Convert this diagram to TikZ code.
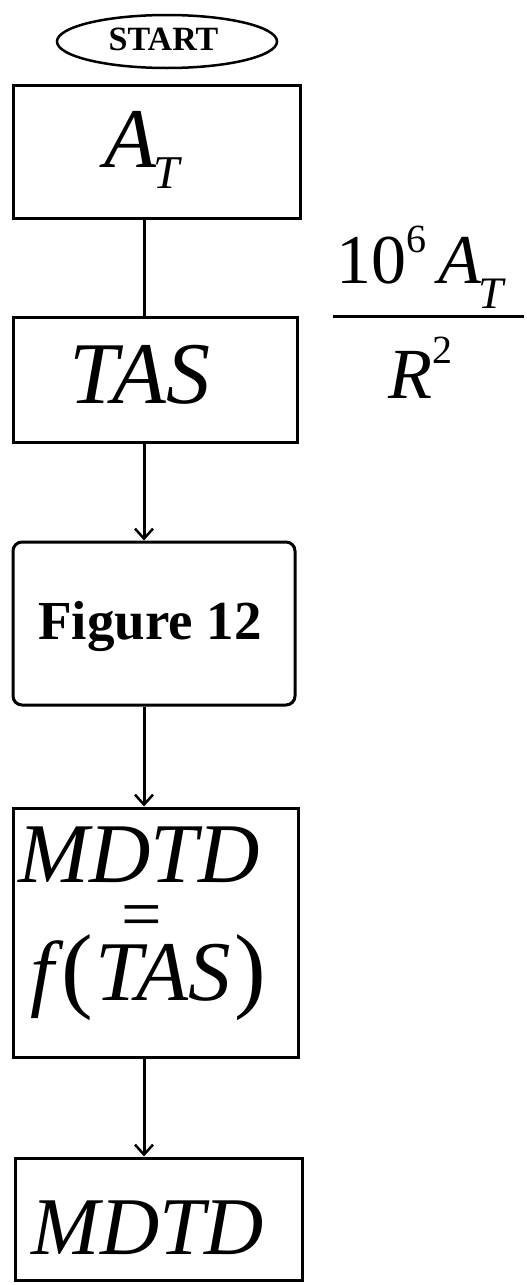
\documentclass[tikz,border=0pt]{standalone}
\usepackage{fontspec}
\setmainfont{Liberation Serif}
\usetikzlibrary{arrows.meta,shapes.geometric}
\begin{document}
\begin{tikzpicture}[x=1pt,y=-1pt,
  box/.style={draw,line width=3pt,rectangle,inner sep=0pt},
  rbox/.style={box,rounded corners=9pt},
  link/.style={line width=3pt},
  arrowlink/.style={link,-{Straight Barb[length=10pt,width=18pt,line width=2.5pt]}},
  txt/.style={inner sep=0pt,anchor=base},
  big/.style={font=\fontsize{85}{90}\selectfont\itshape}]
\useasboundingbox[fill=white] (0,0) rectangle (527,1285);
% shapes
\node[ellipse,draw,line width=2.5pt,minimum width=220pt,minimum height=53pt,inner sep=0pt] (start) at (167,41.5) {};
\node[box,minimum width=287pt,minimum height=133pt] (at) at (156.5,151.5) {};
\node[box,minimum width=284pt,minimum height=125pt] (tas) at (155,379.5) {};
\node[rbox,minimum width=282pt,minimum height=163pt] (fig) at (154,623.5) {};
\node[box,minimum width=285pt,minimum height=249pt] (fun) at (155.5,932.5) {};
\node[box,minimum width=287pt,minimum height=122pt] (mdtd) at (158.5,1219) {};
% texts
\node[txt,font=\fontsize{34}{40}\selectfont\bfseries] (starttext) at (163.5,50) {START};
\node[txt,anchor=base west,big] (attext) at (104,167) {A\kern-3pt\raisebox{-21pt}{\fontsize{47}{50}\selectfont T}};
\node[txt,font=\fontsize{88}{90}\selectfont\itshape] (tastext) at (140,403) {TAS};
\node[txt,font=\fontsize{55}{60}\selectfont\bfseries] (figtext) at (150,639) {Figure 12};
\node[txt,big] (funtext1) at (139,882) {MDTD};
\node[txt,font=\fontsize{72}{80}\selectfont] (funeq) at (142,938) {=};
\node[txt,big] (funtext2) at (148,1000) {f\kern8pt{\upshape\fontsize{95}{95}\selectfont(}\kern2pt TAS\kern3pt{\upshape\fontsize{95}{95}\selectfont)}};
\node[txt,font=\fontsize{82}{90}\selectfont\itshape] (mdtdtext) at (148,1254) {MDTD};
% fraction
\node[txt,anchor=base west,font=\fontsize{70}{80}\selectfont] (num) at (336,283) {10\raisebox{31pt}{\fontsize{40}{44}\selectfont 6}\kern12pt\itshape A\kern-2pt\raisebox{-25pt}{\fontsize{45}{50}\selectfont T}};
\node[txt,anchor=base west,font=\fontsize{72}{80}\selectfont\itshape] (den) at (388,398) {R\raisebox{35pt}{\upshape\fontsize{40}{44}\selectfont 2}};
\coordinate (barl) at (333,316);
\coordinate (barr) at (524,316);
\draw[line width=3pt] (barl) -- (barr);
% connectors
\coordinate (c) at (144,0);
\draw[link] (at.south -| c) -- (tas.north -| c);
\draw[arrowlink] (tas.south -| c) -- (fig.north -| c);
\draw[arrowlink] (fig.south -| c) -- (fun.north -| c);
\draw[arrowlink] (fun.south -| c) -- (mdtd.north -| c);
\end{tikzpicture}
\end{document}
